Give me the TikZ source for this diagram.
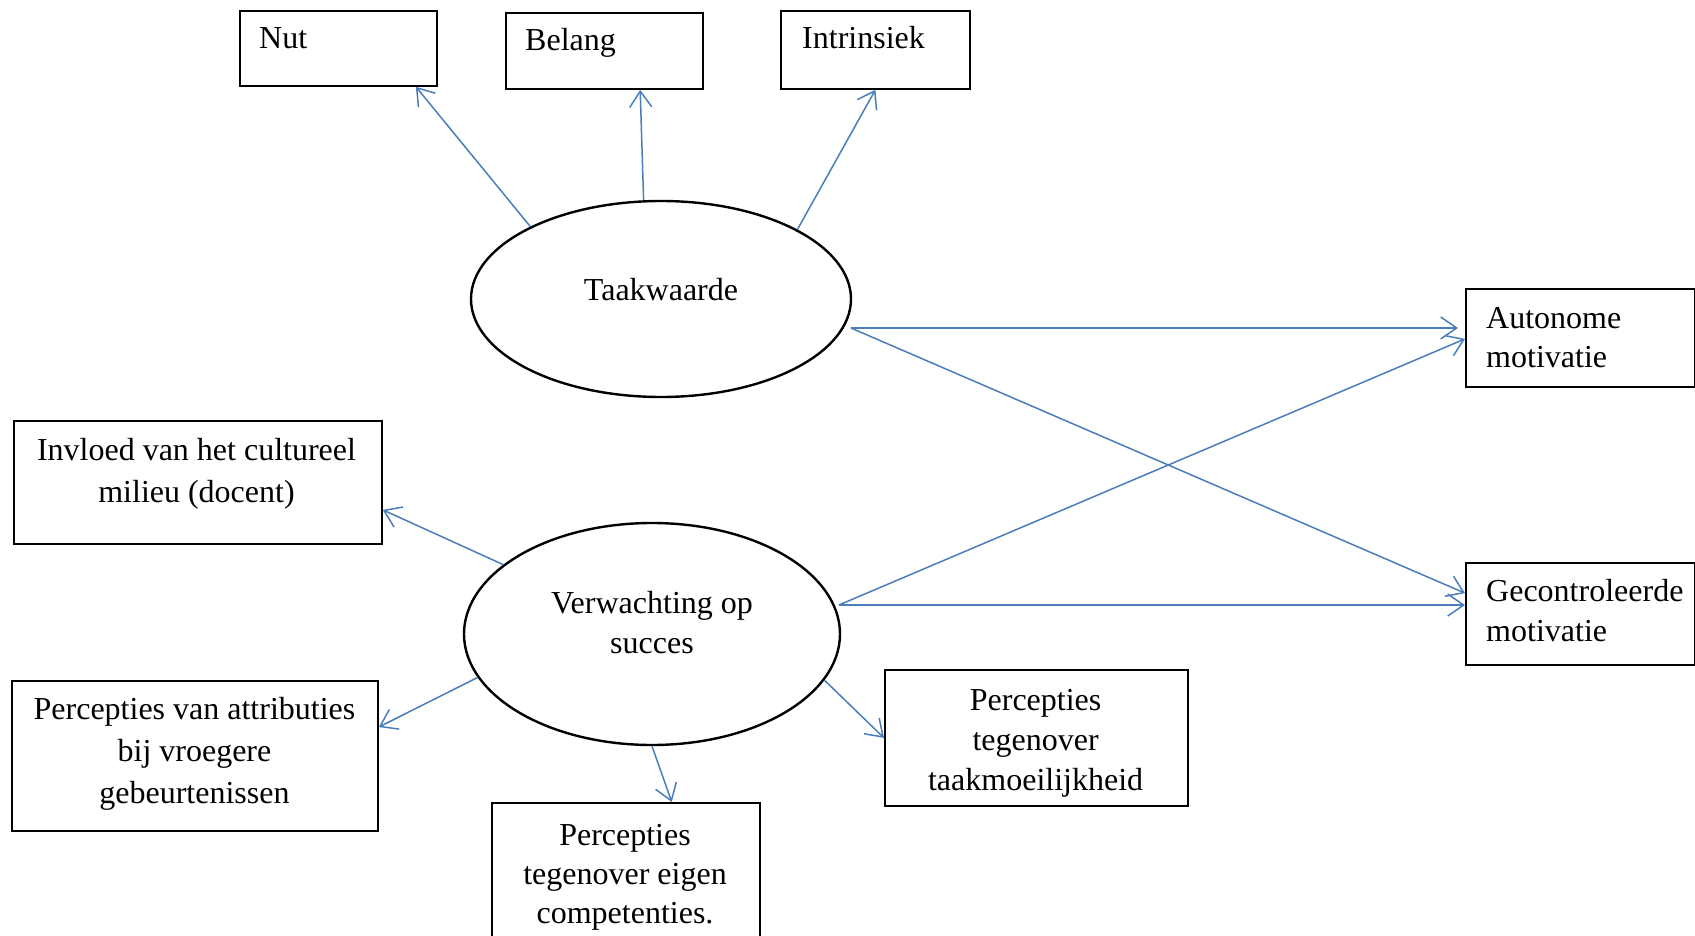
\documentclass[tikz,border=0pt]{standalone}
\usepackage{fontspec}
\setmainfont{Liberation Serif}
\usetikzlibrary{shapes.geometric,arrows.meta,calc}
\definecolor{arrowblue}{HTML}{4A7EBB}
\begin{document}
\begin{tikzpicture}[x=1pt,y=-1pt,
  box/.style={draw=black, line width=1.8pt, rectangle, anchor=north west, inner sep=0},
  oval/.style={draw=black, line width=2.4pt, ellipse, inner sep=0},
  txt/.style={inner sep=0, font=\fontsize{32}{39}\selectfont},
  link/.style={draw=arrowblue, line width=1.5pt, -{Straight Barb[length=16pt,width=22pt,line width=1.5pt]}}
]
\useasboundingbox (0,0) rectangle (1695,936);
\fill[white] (0,0) rectangle (1695,936);
\clip (0,0) rectangle (1695,936);

% boxes
\node[box, minimum width=197, minimum height=75] (nut) at (239,10) {};
\node[box, minimum width=197, minimum height=76] (bel) at (505,12) {};
\node[box, minimum width=189, minimum height=78] (int) at (780,10) {};
\node[box, minimum width=229, minimum height=98] (au) at (1465,288) {};
\node[box, minimum width=229, minimum height=102] (ge) at (1465,562) {};
\node[box, minimum width=368, minimum height=123] (inv) at (13,420) {};
\node[box, minimum width=366, minimum height=150] (att) at (11,680) {};
\node[box, minimum width=268, minimum height=170] (comp) at (491,802) {};
\node[box, minimum width=303, minimum height=136] (tm) at (884,669) {};

% ellipses
\node[oval, minimum width=380, minimum height=196] (tw) at (661,299) {};
\node[oval, minimum width=376, minimum height=222] (vs) at (652,634) {};

% texts
\node[txt, anchor=base west] (nutt) at (259,49) {Nut};
\node[txt, anchor=base west] (belt) at (525,51) {Belang};
\node[txt, anchor=base west] (intt) at (802,49) {Intrinsiek};
\node[txt, anchor=base] (twt) at (661,300) {Taakwaarde};
\node[txt, font=\fontsize{32}{40}\selectfont, align=center, anchor=north] (vst) at (652,585) {\strut Verwachting op\\succes};
\node[txt, align=left, anchor=north west] (aut) at (1486,300.7) {\strut Autonome\\motivatie};
\node[txt, font=\fontsize{32}{40}\selectfont, align=left, anchor=north west] (get) at (1486,573) {\strut Gecontroleerde\\motivatie};
\node[txt, font=\fontsize{32}{42}\selectfont, align=center, anchor=north] (invt) at (196.5,430.6) {\strut Invloed van het cultureel\\milieu (docent)};
\node[txt, font=\fontsize{32}{42}\selectfont, align=center, anchor=north] (attt) at (194.5,689.6) {\strut Percepties van attributies\\bij vroegere\\gebeurtenissen};
\node[txt, align=center, anchor=north] (compt) at (625,817.7) {\strut Percepties\\tegenover eigen\\competenties.};
\node[txt, font=\fontsize{32}{40}\selectfont, align=center, anchor=north] (tmt) at (1035.6,682) {\strut Percepties\\tegenover\\taakmoeilijkheid};

% connectors
\coordinate (twr) at ([xshift=7pt]tw.-9);
\coordinate (vsr) at ([xshift=4pt]vs.9);
\draw[link] (tw.151) -- ($(nut.south west)!0.89!(nut.south east)$);
\draw[link] (tw.100) -- ($(bel.south west)!0.68!(bel.south east)$);
\draw[link] (tw.27) -- (int.south);
\draw[link] (twr) -- ([xshift=-7pt]twr -| au.west);
\draw[link] (twr) -- ($(ge.north west)!0.30!(ge.south west)$);
\draw[link] (vsr) -- ($(au.north west)!0.51!(au.south west)$);
\draw[link] (vsr) -- (vsr -| ge.west);
\draw[link] (vs.155) -- ($(inv.north east)!0.72!(inv.south east)$);
\draw[link] (vs.194) -- ($(att.north east)!0.31!(att.south east)$);
\draw[link] (vs.-90) -- ($(comp.north west)!0.67!(comp.north east)$);
\draw[link] (vs.-15) -- (tm.west);
\end{tikzpicture}
\end{document}
